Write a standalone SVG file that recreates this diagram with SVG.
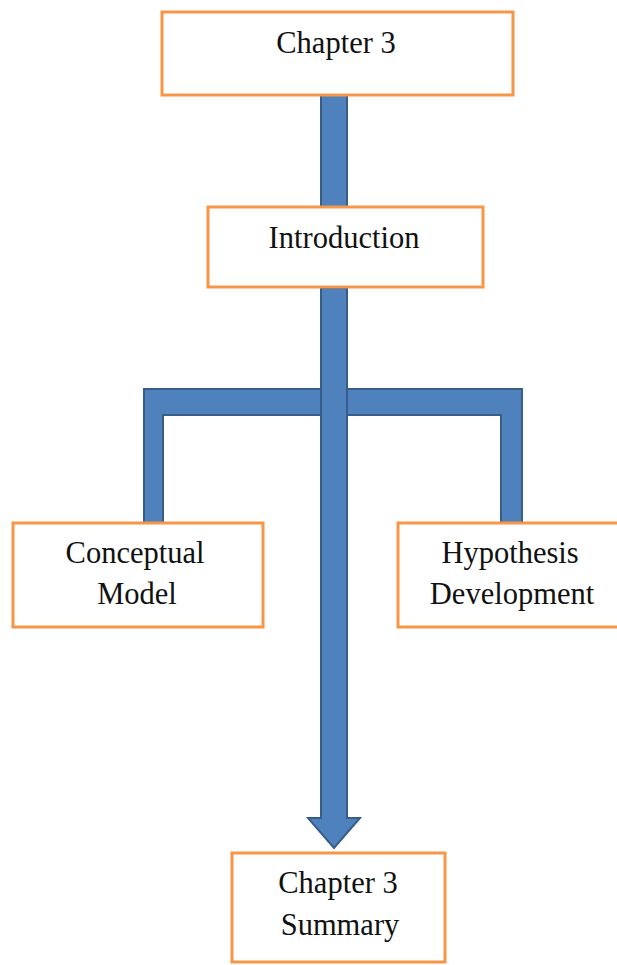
<svg xmlns="http://www.w3.org/2000/svg" width="617" height="965" viewBox="0 0 617 965">
  <style>
    .box { fill: #ffffff; stroke: #F79646; stroke-width: 3; }
    .bar { fill: #4F81BD; stroke: #385D8A; stroke-width: 2; stroke-linejoin: miter; }
    .label { font-family: "Liberation Serif", "Times New Roman", serif; font-size: 30.5px; fill: #111111; text-anchor: middle; }
  </style>

  <!-- connectors -->
  <g id="connectors">
    <!-- Chapter 3 to Introduction -->
    <rect class="bar" x="321" y="95" width="26" height="112"/>
    <!-- bracket feeding the two side topics -->
    <path class="bar" d="M144,389 L522,389 L522,523 L501,523 L501,415 L163,415 L163,523 L144,523 Z"/>
    <!-- main arrow from Introduction down to the summary -->
    <path class="bar" d="M321,288 L347,288 L347,818 L360,818 L334,848 L308,818 L321,818 Z"/>
  </g>

  <g id="chapter3">
    <rect class="box" x="162" y="12" width="351" height="83"/>
    <text class="label" x="336" y="53">Chapter 3</text>
  </g>

  <g id="introduction">
    <rect class="box" x="208" y="207" width="275" height="80"/>
    <text class="label" x="344" y="248">Introduction</text>
  </g>

  <g id="conceptual-model">
    <rect class="box" x="13" y="523" width="250" height="104"/>
    <text class="label" x="135" y="563">Conceptual</text>
    <text class="label" x="137" y="604">Model</text>
  </g>

  <g id="hypothesis-development">
    <rect class="box" x="398" y="523" width="222" height="104"/>
    <text class="label" x="510" y="563">Hypothesis</text>
    <text class="label" x="512" y="604">Development</text>
  </g>

  <g id="chapter3-summary">
    <rect class="box" x="232" y="853" width="213" height="109"/>
    <text class="label" x="338" y="893">Chapter 3</text>
    <text class="label" x="340" y="935">Summary</text>
  </g>
</svg>
